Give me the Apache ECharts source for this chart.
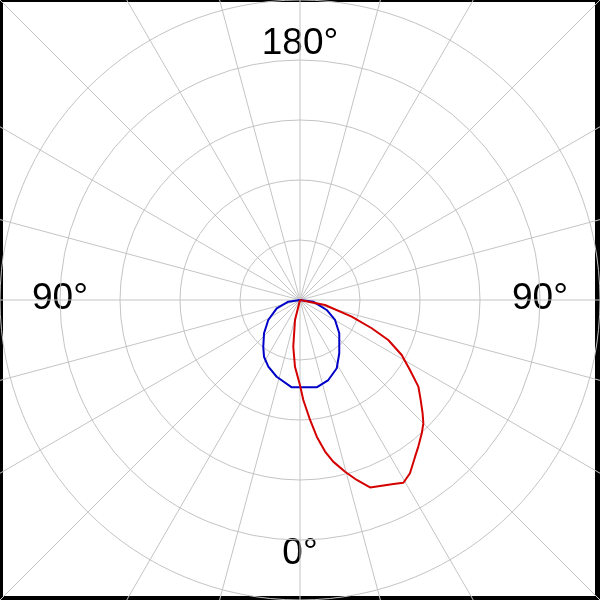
<!DOCTYPE html>
<html><head><meta charset="utf-8">
<script src="https://cdn.jsdelivr.net/npm/echarts@6/dist/echarts.min.js"></script>
<style>html,body{margin:0;padding:0;background:#fff}#c{width:600px;height:600px}</style>
</head><body><div id="c"></div>
<script>
// Tick labels shown on the polar grid (bottom = 0°, sides = 90°, top = 180°)
const tickLabels = ['180°', '90°', '0°', '90°'];

// Gamma angle (deg, negative = left half, positive = right half) and intensity
const blueAngles = [-90, -81.7, -70.4, -57.8, -47.2, -38.2, -32.4, -25.4, -16.9, -5.4, 10.8, 19.5, 28.3, 36.4, 49.7, 60.3, 69.5, 82.7, 90];
const blueValues = [0, 19.7, 41.2, 62.5, 81.7, 99, 112, 123, 133.7, 146.2, 148.2, 141.5, 129.2, 110.3, 85.8, 67.2, 47.5, 22.3, 0];

const redAngles = [-30, -14, -8.2, -4.3, 0, 1.9, 4.8, 7.0, 9.4, 11.6, 14.7, 17.5, 20.5, 23.3, 26.9, 29.5, 32.4, 36.3, 38.9, 42.4, 45, 47.3, 50.4, 53.8, 57.5, 61.6, 65.6, 68.5, 72.1, 78.7, 90];
const redValues = [0, 34.3, 78.7, 111.5, 142, 166.8, 200.7, 229.5, 256, 275, 296, 314.5, 333.5, 337.5, 344, 350, 342, 324, 314, 301, 290.7, 278, 261, 244.5, 217.3, 192.7, 161.5, 128.5, 90.5, 42.5, 0];

const gridColor = '#c4c4c4';
const pair = (a, v) => a.map((ang, i) => [v[i], ang]);

const chart = echarts.init(document.getElementById('c'), null, {renderer: 'canvas'});
const hiddenAxis = {axisLine: {show: false}, axisTick: {show: false}, axisLabel: {show: false}};
chart.setOption({
  animation: false,
  backgroundColor: '#ffffff',
  polar: [
    {center: ['50%', '50%'], radius: 300},
    {center: ['50%', '50%'], radius: 425}
  ],
  angleAxis: [
    Object.assign({polarIndex: 0, type: 'value', min: -180, max: 180, interval: 15, startAngle: 90, clockwise: false,
      splitLine: {show: false}}, hiddenAxis),
    Object.assign({polarIndex: 1, type: 'value', min: -180, max: 180, interval: 15, startAngle: 90, clockwise: false,
      splitLine: {show: true, lineStyle: {color: gridColor, width: 1}}}, hiddenAxis)
  ],
  radiusAxis: [
    Object.assign({polarIndex: 0, type: 'value', min: 0, max: 500, interval: 100,
      splitLine: {show: true, lineStyle: {color: gridColor, width: 1}}}, hiddenAxis),
    Object.assign({polarIndex: 1, type: 'value', min: 0, max: 1, splitLine: {show: false}}, hiddenAxis)
  ],
  series: [
    {type: 'line', coordinateSystem: 'polar', polarIndex: 0, data: pair(blueAngles, blueValues),
      showSymbol: false, smooth: false, lineStyle: {color: '#0000c8', width: 2}, z: 3},
    {type: 'line', coordinateSystem: 'polar', polarIndex: 0, data: pair(redAngles, redValues),
      showSymbol: false, smooth: false, lineStyle: {color: '#d40000', width: 2}, z: 4}
  ],
  graphic: [
    {type: 'text', x: 300, y: 44, style: {text: tickLabels[0], font: '37px "Liberation Sans", Arial, sans-serif', fill: '#000',
      align: 'center', verticalAlign: 'middle', backgroundColor: '#fff', padding: [3, 4]}},
    {type: 'text', x: 60, y: 299, style: {text: tickLabels[1], font: '37px "Liberation Sans", Arial, sans-serif', fill: '#000',
      align: 'center', verticalAlign: 'middle', backgroundColor: '#fff', padding: [3, 3]}},
    {type: 'text', x: 300, y: 554, style: {text: tickLabels[2], font: '37px "Liberation Sans", Arial, sans-serif', fill: '#000',
      align: 'center', verticalAlign: 'middle', backgroundColor: '#fff', padding: [3, 4]}},
    {type: 'text', x: 540, y: 299, style: {text: tickLabels[3], font: '37px "Liberation Sans", Arial, sans-serif', fill: '#000',
      align: 'center', verticalAlign: 'middle', backgroundColor: '#fff', padding: [3, 3]}},
    {type: 'rect', shape: {x: 0, y: 0, width: 3, height: 600}, style: {fill: '#000'}},
    {type: 'rect', shape: {x: 0, y: 0, width: 600, height: 2}, style: {fill: '#000'}},
    {type: 'rect', shape: {x: 595, y: 0, width: 5, height: 600}, style: {fill: '#000'}},
    {type: 'rect', shape: {x: 0, y: 596, width: 600, height: 4}, style: {fill: '#000'}}
  ]
});
</script>
</body></html>
